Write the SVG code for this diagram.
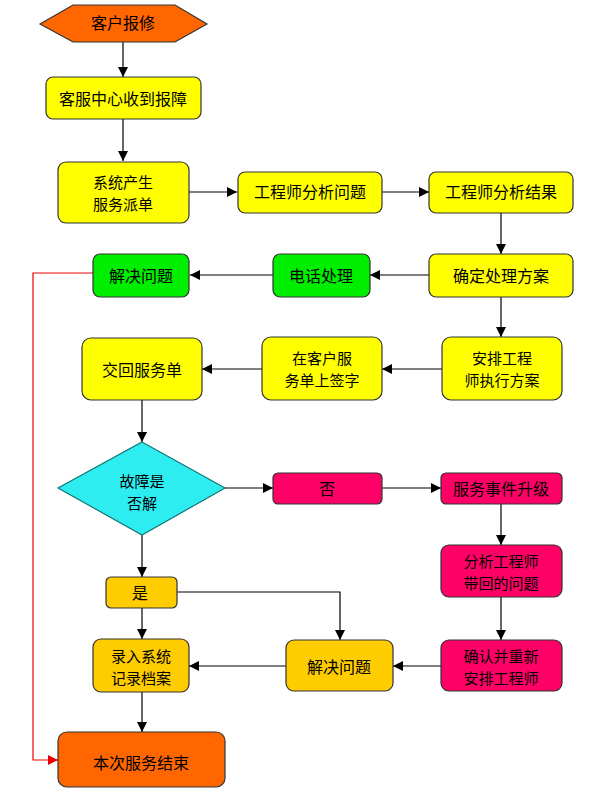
<svg xmlns="http://www.w3.org/2000/svg" width="592" height="803" viewBox="0 0 592 803">
<style>
.b{stroke:#333;stroke-width:1.2}
.y{fill:#FFFF00}.o{fill:#FF6600}.g{fill:#00EE00}.r{fill:#FF0066}.a{fill:#FFCC00}.c{fill:#2EEDF0}
text{font-family:"Noto Sans CJK SC","Noto Sans",sans-serif;font-size:16px;fill:#000;text-anchor:middle;dominant-baseline:central}
text.t{font-size:15px}
.l{fill:none;stroke:#000;stroke-width:1.2}
.rl{fill:none;stroke:#E00;stroke-width:1.2}
</style>
<defs>
<marker id="ar" viewBox="0 0 10 10" refX="10" refY="5" markerWidth="10" markerHeight="10" markerUnits="userSpaceOnUse" orient="auto"><path d="M0,0 L10,5 L0,10 z" fill="#000"/></marker>
<marker id="arr" viewBox="0 0 10 10" refX="10" refY="5" markerWidth="10" markerHeight="10" markerUnits="userSpaceOnUse" orient="auto"><path d="M0,0 L10,5 L0,10 z" fill="#E00"/></marker>
</defs>
<rect width="592" height="803" fill="#fff"/>
<g id="connectors">
<path class="l" d="M123,42 V77" marker-end="url(#ar)"/>
<path class="l" d="M123,119 V161" marker-end="url(#ar)"/>
<path class="l" d="M189,192 H237" marker-end="url(#ar)"/>
<path class="l" d="M382,192 H429" marker-end="url(#ar)"/>
<path class="l" d="M501,213 V254" marker-end="url(#ar)"/>
<path class="l" d="M429,275 H370" marker-end="url(#ar)"/>
<path class="l" d="M273,275 H190" marker-end="url(#ar)"/>
<path class="rl" d="M93,273 H33 V760 H58" marker-end="url(#arr)"/>
<path class="l" d="M501,297 V337" marker-end="url(#ar)"/>
<path class="l" d="M442,369 H382" marker-end="url(#ar)"/>
<path class="l" d="M262,369 H202" marker-end="url(#ar)"/>
<path class="l" d="M142,400 V442" marker-end="url(#ar)"/>
<path class="l" d="M225,488 H273" marker-end="url(#ar)"/>
<path class="l" d="M382,488 H441" marker-end="url(#ar)"/>
<path class="l" d="M501,504 V545" marker-end="url(#ar)"/>
<path class="l" d="M501,597 V640" marker-end="url(#ar)"/>
<path class="l" d="M441,666 H393" marker-end="url(#ar)"/>
<path class="l" d="M177,592 H340 V640" marker-end="url(#ar)"/>
<path class="l" d="M286,666 H189" marker-end="url(#ar)"/>
<path class="l" d="M142,535 V577" marker-end="url(#ar)"/>
<path class="l" d="M142,608 V639" marker-end="url(#ar)"/>
<path class="l" d="M142,692 V732" marker-end="url(#ar)"/>
</g>
<g id="n1"><polygon class="b o" points="40,24 73,5 175,5 207,24 175,42 73,42"/><text x="123" y="22">客户报修</text></g>
<g id="n2"><rect class="b y" x="46" y="77" width="155" height="42" rx="7"/><text x="123" y="98">客服中心收到报障</text></g>
<g id="n3"><rect class="b y" x="58" y="162" width="131" height="61" rx="8"/><text class="t" x="123" y="181">系统产生</text><text class="t" x="123" y="203">服务派单</text></g>
<g id="n4"><rect class="b y" x="238" y="172" width="144" height="41" rx="7"/><text x="310" y="191">工程师分析问题</text></g>
<g id="n5"><rect class="b y" x="429" y="172" width="144" height="41" rx="7"/><text x="501" y="191">工程师分析结果</text></g>
<g id="n6"><rect class="b y" x="429" y="254" width="144" height="43" rx="7"/><text x="501" y="275">确定处理方案</text></g>
<g id="n7"><rect class="b g" x="273" y="254" width="97" height="43" rx="7"/><text x="321" y="275">电话处理</text></g>
<g id="n8"><rect class="b g" x="93" y="254" width="96" height="43" rx="7"/><text x="141" y="275">解决问题</text></g>
<g id="n9"><rect class="b y" x="442" y="337" width="120" height="63" rx="9"/><text class="t" x="502" y="357">安排工程</text><text class="t" x="502" y="379">师执行方案</text></g>
<g id="n10"><rect class="b y" x="262" y="337" width="120" height="63" rx="9"/><text class="t" x="322" y="357">在客户服</text><text class="t" x="322" y="379">务单上签字</text></g>
<g id="n11"><rect class="b y" x="82" y="338" width="120" height="62" rx="9"/><text x="142" y="369">交回服务单</text></g>
<g id="n12"><polygon points="142,442 225,488 142,535 58,488" fill="#2EEDF0" stroke="#177" stroke-width="1.2"/><text class="t" x="142" y="480">故障是</text><text class="t" x="142" y="502">否解</text></g>
<g id="n13"><rect class="b r" x="273" y="473" width="109" height="31" rx="5"/><text x="327" y="488">否</text></g>
<g id="n14"><rect class="b r" x="441" y="473" width="121" height="31" rx="5"/><text x="501" y="488">服务事件升级</text></g>
<g id="n15"><rect class="b r" x="441" y="545" width="121" height="52" rx="8"/><text class="t" x="501" y="560">分析工程师</text><text class="t" x="501" y="582">带回的问题</text></g>
<g id="n16"><rect class="b r" x="441" y="640" width="121" height="51" rx="8"/><text class="t" x="501" y="655">确认并重新</text><text class="t" x="501" y="677">安排工程师</text></g>
<g id="n17"><rect class="b a" x="286" y="640" width="107" height="51" rx="8"/><text x="339" y="666">解决问题</text></g>
<g id="n18"><rect class="b a" x="106" y="577" width="71" height="31" rx="5"/><text x="140" y="592">是</text></g>
<g id="n19"><rect class="b a" x="93" y="639" width="96" height="53" rx="8"/><text class="t" x="141" y="655">录入系统</text><text class="t" x="141" y="677">记录档案</text></g>
<g id="n20"><rect class="b o" x="58" y="732" width="167" height="55" rx="9"/><text x="141" y="762">本次服务结束</text></g>
</svg>
